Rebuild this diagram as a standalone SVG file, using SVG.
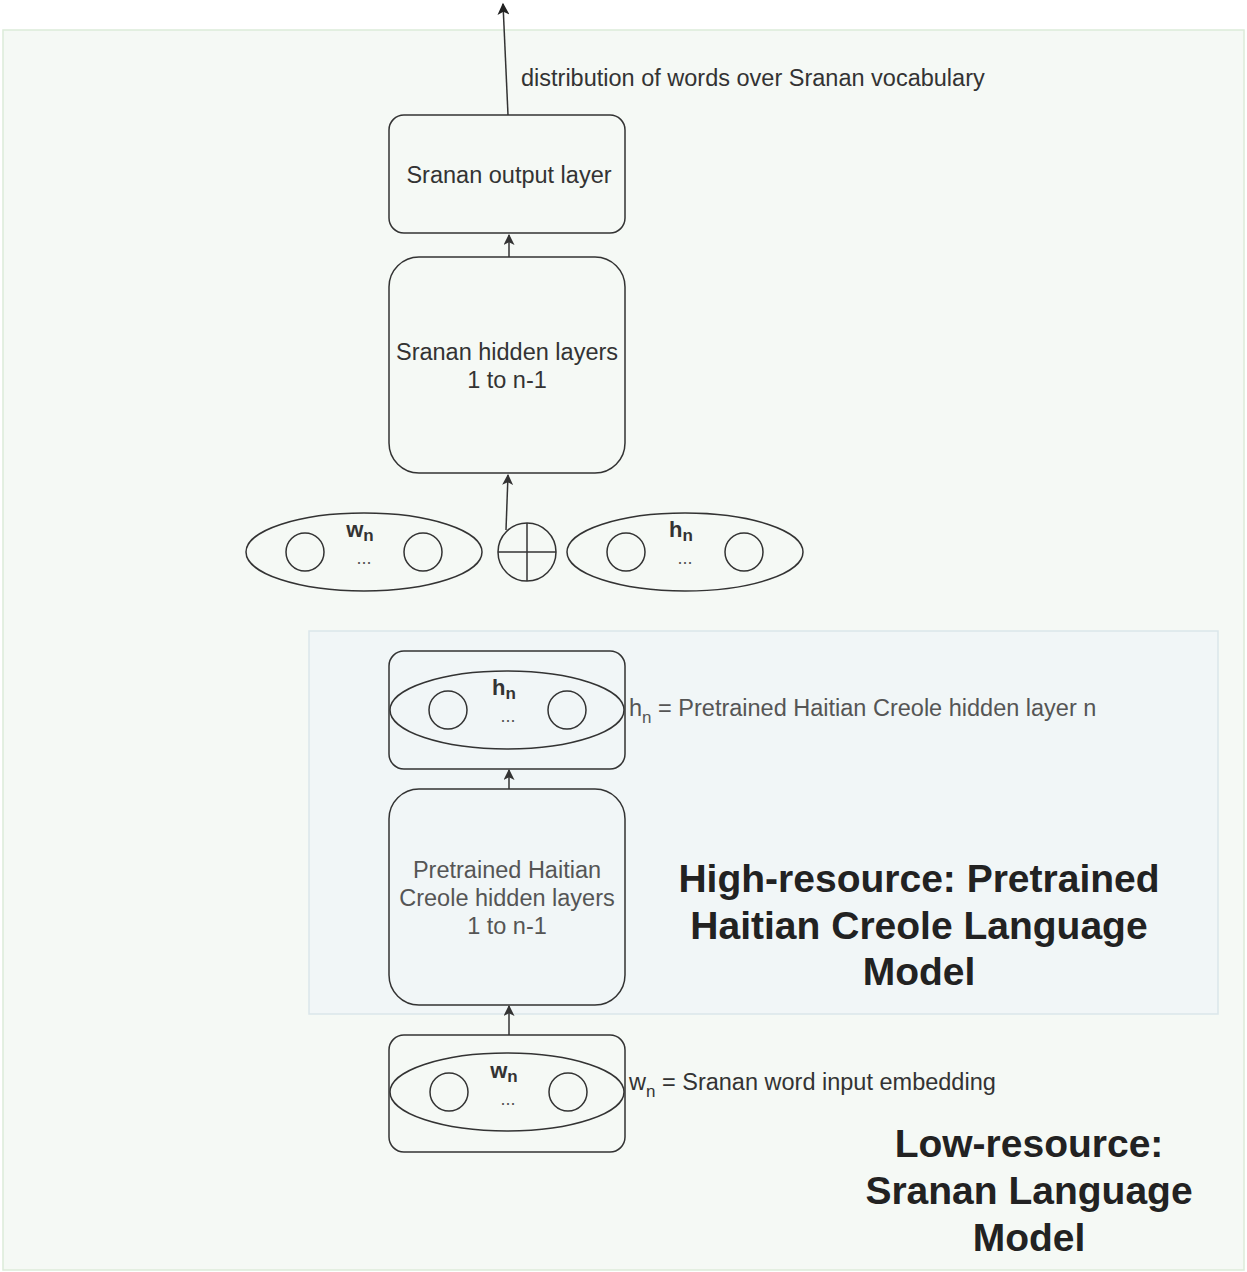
<svg xmlns="http://www.w3.org/2000/svg" width="1247" height="1272" viewBox="0 0 1247 1272">
<defs>
<marker id="arr" viewBox="0 0 10 10" refX="9" refY="5" markerWidth="11" markerHeight="11" markerUnits="userSpaceOnUse" orient="auto">
<path d="M0,0 L10,5 L0,10 L2.5,5 Z" fill="#333"/>
</marker>
<marker id="arrBig" viewBox="0 0 10 10" refX="9" refY="5" markerWidth="16" markerHeight="12" markerUnits="userSpaceOnUse" orient="auto">
<path d="M0,0 L10,5 L0,10 L2.5,5 Z" fill="#222"/>
</marker>
</defs>
<style>
.box{fill:none;stroke:#333;stroke-width:1.5}
.sh{fill:none;stroke:#333;stroke-width:1.5}
.t{font-family:"Liberation Sans",Arial,sans-serif;font-size:23.5px;fill:#333;text-anchor:middle}
.tg{font-family:"Liberation Sans",Arial,sans-serif;font-size:23.5px;fill:#555;text-anchor:middle}
.lbl{font-family:"Liberation Sans",Arial,sans-serif;font-size:23.5px;fill:#333}
.lblg{font-family:"Liberation Sans",Arial,sans-serif;font-size:23.5px;fill:#555}
.sym{font-family:"Liberation Sans",Arial,sans-serif;font-size:22px;font-weight:bold;fill:#333;text-anchor:middle}
.dots{font-family:"Liberation Sans",Arial,sans-serif;font-size:18px;fill:#555;text-anchor:middle}
.big{font-family:"Liberation Sans",Arial,sans-serif;font-size:39px;font-weight:bold;fill:#222;text-anchor:middle}
.conn{fill:none;stroke:#333;stroke-width:1.5}
</style>
<rect x="0" y="0" width="1247" height="1272" fill="#ffffff"/>
<g id="lowResourceContainer">
<rect x="3" y="30" width="1241" height="1240" fill="#f5f9f5" stroke="#dcebd9" stroke-width="1.5"/>
</g>
<g id="highResourceContainer">
<rect x="309" y="631" width="909" height="383" fill="#f1f6f7" stroke="#dae6ea" stroke-width="1.5"/>
</g>
<g id="connectors">
<line class="conn" x1="508" y1="115" x2="503" y2="4" marker-end="url(#arrBig)"/>
<line class="conn" x1="509" y1="257" x2="509" y2="235" marker-end="url(#arr)"/>
<line class="conn" x1="506" y1="530" x2="508" y2="475" marker-end="url(#arr)"/>
<line class="conn" x1="509" y1="789" x2="509" y2="770" marker-end="url(#arr)"/>
<line class="conn" x1="509" y1="1035" x2="509" y2="1006" marker-end="url(#arr)"/>
</g>
<g id="distLabel">
<text class="lbl" x="521" y="86">distribution of words over Sranan vocabulary</text>
</g>
<g id="srananOutput">
<rect class="box" x="389" y="115" width="236" height="118" rx="15" fill="#fff"/>
<text class="t" x="509" y="183">Sranan output layer</text>
</g>
<g id="srananHidden">
<rect class="box" x="389" y="257" width="236" height="216" rx="30"/>
<text class="t" x="507" y="360">Sranan hidden layers</text>
<text class="t" x="507" y="388">1 to n-1</text>
</g>
<g id="wnConcat">
<ellipse class="sh" cx="364" cy="552" rx="118" ry="39"/>
<circle class="sh" cx="305" cy="552" r="19"/>
<circle class="sh" cx="423" cy="552" r="19"/>
<text class="sym" x="360" y="537">w<tspan font-size="17" dy="4">n</tspan></text>
<text class="dots" x="364" y="564">...</text>
</g>
<g id="plus">
<circle class="sh" cx="527" cy="552" r="29"/>
<line class="sh" x1="498" y1="552" x2="556" y2="552"/>
<line class="sh" x1="527" y1="523" x2="527" y2="581"/>
</g>
<g id="hnConcat">
<ellipse class="sh" cx="685" cy="552" rx="118" ry="39"/>
<circle class="sh" cx="626" cy="552" r="19"/>
<circle class="sh" cx="744" cy="552" r="19"/>
<text class="sym" x="681" y="537">h<tspan font-size="17" dy="4">n</tspan></text>
<text class="dots" x="685" y="564">...</text>
</g>
<g id="hnLayer">
<rect class="box" x="389" y="651" width="236" height="118" rx="15"/>
<ellipse class="sh" cx="507" cy="710" rx="117" ry="39"/>
<circle class="sh" cx="448" cy="710" r="19"/>
<circle class="sh" cx="567" cy="710" r="19"/>
<text class="sym" x="504" y="695">h<tspan font-size="17" dy="4">n</tspan></text>
<text class="dots" x="508" y="722">...</text>
</g>
<g id="hnLabel">
<text class="lblg" x="629" y="716">h<tspan font-size="17" dy="7">n</tspan><tspan dy="-7"> = Pretrained Haitian Creole hidden layer n</tspan></text>
</g>
<g id="pretrainedHidden">
<rect class="box" x="389" y="789" width="236" height="216" rx="30"/>
<text class="tg" x="507" y="878">Pretrained Haitian</text>
<text class="tg" x="507" y="906">Creole hidden layers</text>
<text class="tg" x="507" y="934">1 to n-1</text>
</g>
<g id="wnLayer">
<rect class="box" x="389" y="1035" width="236" height="117" rx="15"/>
<ellipse class="sh" cx="507" cy="1092" rx="117" ry="39"/>
<circle class="sh" cx="449" cy="1092" r="19"/>
<circle class="sh" cx="568" cy="1092" r="19"/>
<text class="sym" x="504" y="1078">w<tspan font-size="17" dy="4">n</tspan></text>
<text class="dots" x="508" y="1105">...</text>
</g>
<g id="wnLabel">
<text class="lbl" x="629" y="1090">w<tspan font-size="17" dy="7">n</tspan><tspan dy="-7"> = Sranan word input embedding</tspan></text>
</g>
<g id="highTitle">
<text class="big" x="919" y="892">High-resource: Pretrained</text>
<text class="big" x="919" y="939">Haitian Creole Language</text>
<text class="big" x="919" y="985">Model</text>
</g>
<g id="lowTitle">
<text class="big" x="1029" y="1157">Low-resource:</text>
<text class="big" x="1029" y="1204">Sranan Language</text>
<text class="big" x="1029" y="1251">Model</text>
</g>
</svg>
